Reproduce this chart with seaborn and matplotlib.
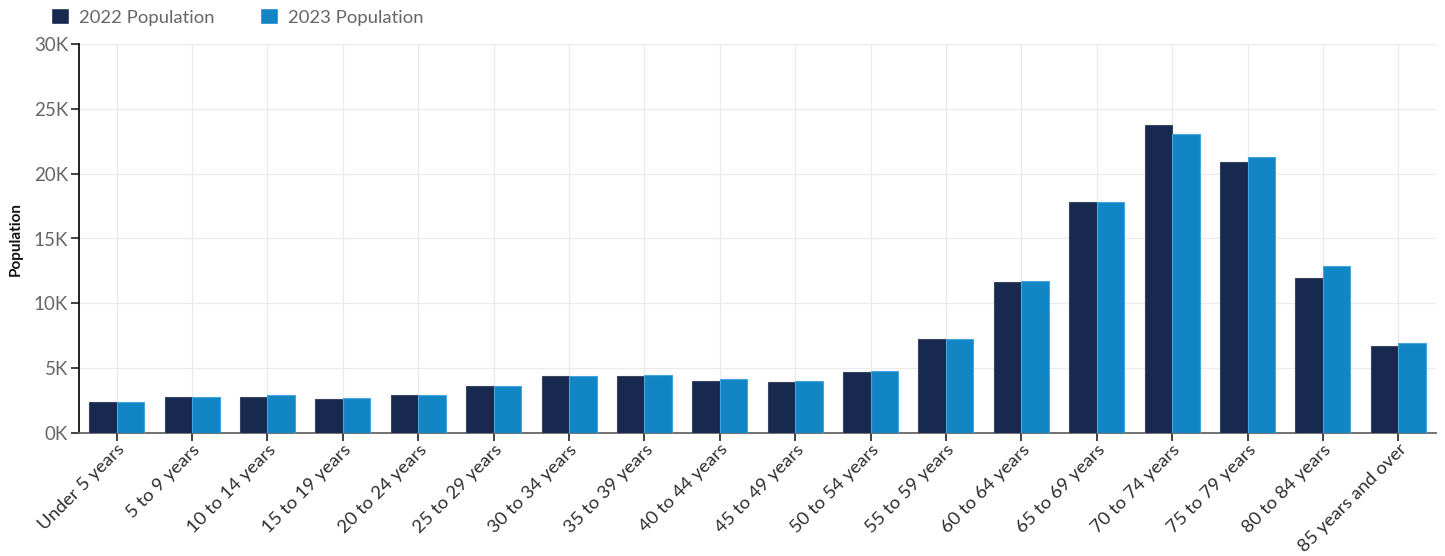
import matplotlib
matplotlib.use("Agg")
import matplotlib.pyplot as plt
import seaborn as sns
import pandas as pd
from matplotlib.ticker import FuncFormatter, MultipleLocator

categories = ["Under 5 years", "5 to 9 years", "10 to 14 years", "15 to 19 years",
              "20 to 24 years", "25 to 29 years", "30 to 34 years", "35 to 39 years",
              "40 to 44 years", "45 to 49 years", "50 to 54 years", "55 to 59 years",
              "60 to 64 years", "65 to 69 years", "70 to 74 years", "75 to 79 years",
              "80 to 84 years", "85 years and over"]
pop_2022 = [2360, 2800, 2800, 2590, 2930, 3600, 4370, 4370, 4040, 3910, 4710, 7250,
            11650, 17790, 23740, 20930, 11960, 6730]
pop_2023 = [2360, 2800, 2930, 2700, 2930, 3600, 4370, 4470, 4140, 4040, 4810, 7250,
            11750, 17790, 23050, 21270, 12880, 6930]
series_names = ["2022 Population", "2023 Population"]
colors = ["#17294f", "#1286c4"]
edge_colors = ["#3a4660", "#45a6dd"]

df = pd.DataFrame({
    "Age": categories * 2,
    "Population": pop_2022 + pop_2023,
    "Series": [series_names[0]] * len(categories) + [series_names[1]] * len(categories),
})

sns.set_theme(style="white")
plt.rcParams["font.family"] = ["Lato", "DejaVu Sans"]

fig = plt.figure(figsize=(14.45, 5.56), dpi=100)
ax = fig.add_axes([79 / 1445, 1 - 433 / 556, (1436 - 79) / 1445, (433 - 44) / 556])

sns.barplot(data=df, x="Age", y="Population", hue="Series", palette=colors,
            width=0.73, ax=ax, saturation=1, legend=True, zorder=3)

n = len(categories)
for i, bar in enumerate(ax.patches[:2 * n]):
    s = i // n
    bar.set_edgecolor(edge_colors[s])
    bar.set_linewidth(0.8)

ax.set_ylim(0, 30000)
ax.set_xlim(-0.5, n - 0.5)
ax.yaxis.set_major_locator(MultipleLocator(5000))
ax.yaxis.set_major_formatter(FuncFormatter(lambda v, p: f"{int(v / 1000)}K"))

ax.grid(True, color="#ebebeb", linewidth=1, zorder=0)
ax.set_axisbelow(True)

for side in ["top", "right"]:
    ax.spines[side].set_visible(False)
ax.spines["left"].set_color("#111111")
ax.spines["left"].set_linewidth(1.3)
ax.spines["bottom"].set_color("#666666")
ax.spines["bottom"].set_linewidth(1.3)

ax.tick_params(axis="y", which="major", length=6, width=1.3, color="#333333",
               labelsize=13.5, labelcolor="#666666", left=True, pad=2)
ax.tick_params(axis="x", which="major", length=6, width=1.3, color="#333333",
               labelsize=13.3, labelcolor="#2e2e2e", bottom=True, pad=0)
plt.setp(ax.get_xticklabels(), rotation=45, ha="right", rotation_mode="anchor")

ax.set_xlabel("")
ax.set_ylabel("Population", fontsize=11, fontweight="bold", color="#111111", labelpad=8)

handles, labels = ax.get_legend_handles_labels()
ax.get_legend().remove()
fig.legend(handles, labels, loc="center left", bbox_to_anchor=(51 / 1445, 1 - 17 / 556),
           ncol=2, frameon=False, fontsize=13.3, handlelength=0.95, handleheight=0.95,
           handletextpad=0.55, columnspacing=2.5, borderpad=0, borderaxespad=0,
           labelcolor="#666666")

fig.savefig("out.png", dpi=100)
